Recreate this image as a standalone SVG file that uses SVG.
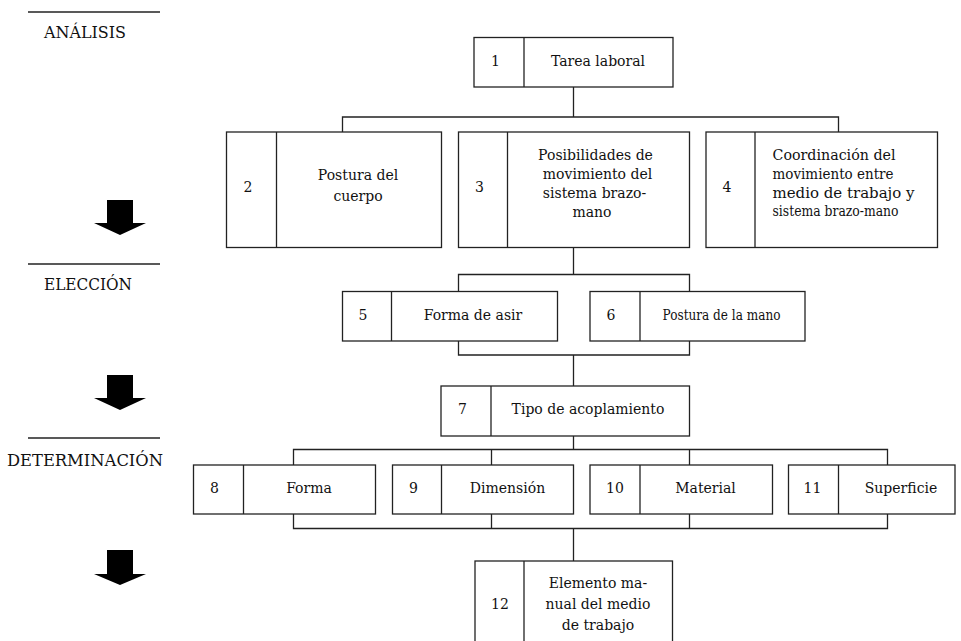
<svg xmlns="http://www.w3.org/2000/svg" width="961" height="641" viewBox="0 0 961 641">
<style>
.box{fill:#fff;stroke:#222;stroke-width:1.3}
.div{stroke:#222;stroke-width:1.3}
.con{fill:none;stroke:#222;stroke-width:1.3}
.rule{stroke:#222;stroke-width:1.3}
text{font-family:"DejaVu Serif","Liberation Serif",serif;font-size:14px;fill:#111}
.lbl{font-size:16px}
.c{text-anchor:middle}
.arr{fill:#000}
</style>
<rect width="961" height="641" fill="#fff"/>
<g id="stages">
<line class="rule" x1="28" y1="12" x2="160" y2="12"/>
<text class="lbl" x="44" y="38" textLength="82" lengthAdjust="spacingAndGlyphs">ANÁLISIS</text>
<line class="rule" x1="28" y1="264" x2="160" y2="264"/>
<text class="lbl" x="44" y="290" textLength="88" lengthAdjust="spacingAndGlyphs">ELECCIÓN</text>
<line class="rule" x1="28" y1="438" x2="160" y2="438"/>
<text class="lbl" x="7" y="466" textLength="156" lengthAdjust="spacingAndGlyphs">DETERMINACIÓN</text>
<polygon class="arr" points="107,200 133,200 133,223 146,223 120,235 94,223 107,223"/>
<polygon class="arr" points="107,375 133,375 133,398 146,398 120,410 94,398 107,398"/>
<polygon class="arr" points="107,550 133,550 133,574 146,574 120,585 94,574 107,574"/>
</g>
<g id="connectors">
<path class="con" d="M573.5,87 V117 M342.5,132 V117 H838.5 V132"/>
<path class="con" d="M573.5,248 V274.5 M458.5,291.5 V274.5 H689.5 V291.5"/>
<path class="con" d="M458.5,341 V355 H689.5 V341 M573.5,355 V386"/>
<path class="con" d="M573.5,436 V449.5 M293.5,465 V449.5 H887.5 V465 M491.5,449.5 V465 M689.5,449.5 V465"/>
<path class="con" d="M293.5,514 V528.5 H887.5 V514 M491.5,514 V528.5 M689.5,514 V528.5 M573.5,528.5 V561"/>
</g>
<g id="n1">
<rect class="box" x="474" y="37.5" width="199" height="49.5"/>
<line class="div" x1="524" y1="37.5" x2="524" y2="87"/>
<text class="c" x="495.5" y="66">1</text>
<text class="c" x="598" y="66">Tarea laboral</text>
</g>
<g id="n2">
<rect class="box" x="226.5" y="132" width="215" height="115.5"/>
<line class="div" x1="276.5" y1="132" x2="276.5" y2="247.5"/>
<text class="c" x="248" y="192">2</text>
<text class="c" x="358" y="180">Postura del</text>
<text class="c" x="358" y="201">cuerpo</text>
</g>
<g id="n3">
<rect class="box" x="458.5" y="132" width="231" height="115.5"/>
<line class="div" x1="507.5" y1="132" x2="507.5" y2="247.5"/>
<text class="c" x="479.5" y="192">3</text>
<text class="c" x="595.5" y="159.5">Posibilidades de</text>
<text class="c" x="597.5" y="178.5">movimiento del</text>
<text class="c" x="594.5" y="197.5">sistema brazo-</text>
<text class="c" x="592" y="216.5">mano</text>
</g>
<g id="n4">
<rect class="box" x="706" y="132" width="231.5" height="115.5"/>
<line class="div" x1="755" y1="132" x2="755" y2="247.5"/>
<text class="c" x="727" y="192">4</text>
<text x="772.5" y="159.5" textLength="123" lengthAdjust="spacingAndGlyphs">Coordinación del</text>
<text x="772.5" y="178.5" textLength="121" lengthAdjust="spacingAndGlyphs">movimiento entre</text>
<text x="772.5" y="197.5" textLength="142" lengthAdjust="spacingAndGlyphs">medio de trabajo y</text>
<text x="772.5" y="216" textLength="126" lengthAdjust="spacingAndGlyphs">sistema brazo-mano</text>
</g>
<g id="n5">
<rect class="box" x="342.5" y="291.5" width="215" height="49.5"/>
<line class="div" x1="391.5" y1="291.5" x2="391.5" y2="341"/>
<text class="c" x="363" y="320">5</text>
<text class="c" x="473" y="320">Forma de asir</text>
</g>
<g id="n6">
<rect class="box" x="590" y="291.5" width="215" height="49.5"/>
<line class="div" x1="640" y1="291.5" x2="640" y2="341"/>
<text class="c" x="611" y="320">6</text>
<text class="c" x="721.5" y="320" textLength="118" lengthAdjust="spacingAndGlyphs">Postura de la mano</text>
</g>
<g id="n7">
<rect class="box" x="441" y="386" width="248.5" height="50"/>
<line class="div" x1="491" y1="386" x2="491" y2="436"/>
<text class="c" x="462.5" y="414">7</text>
<text class="c" x="588" y="414">Tipo de acoplamiento</text>
</g>
<g id="n8">
<rect class="box" x="193.5" y="465" width="182" height="49"/>
<line class="div" x1="243.5" y1="465" x2="243.5" y2="514"/>
<text class="c" x="214.5" y="492.5">8</text>
<text class="c" x="309" y="492.5">Forma</text>
</g>
<g id="n9">
<rect class="box" x="392.5" y="465" width="181" height="49"/>
<line class="div" x1="441.5" y1="465" x2="441.5" y2="514"/>
<text class="c" x="413.5" y="492.5">9</text>
<text class="c" x="507.5" y="492.5">Dimensión</text>
</g>
<g id="n10">
<rect class="box" x="590" y="465" width="182.5" height="49"/>
<line class="div" x1="640" y1="465" x2="640" y2="514"/>
<text class="c" x="615" y="492.5">10</text>
<text class="c" x="705.5" y="492.5">Material</text>
</g>
<g id="n11">
<rect class="box" x="788.5" y="465" width="166.5" height="49"/>
<line class="div" x1="838.5" y1="465" x2="838.5" y2="514"/>
<text class="c" x="812.5" y="492.5">11</text>
<text class="c" x="901" y="492.5">Superficie</text>
</g>
<g id="n12">
<rect class="box" x="475" y="561" width="197.5" height="95"/>
<line class="div" x1="524" y1="561" x2="524" y2="656"/>
<text class="c" x="500" y="609">12</text>
<text class="c" x="598" y="588">Elemento ma-</text>
<text class="c" x="598" y="609">nual del medio</text>
<text class="c" x="598" y="630">de trabajo</text>
</g>
</svg>
